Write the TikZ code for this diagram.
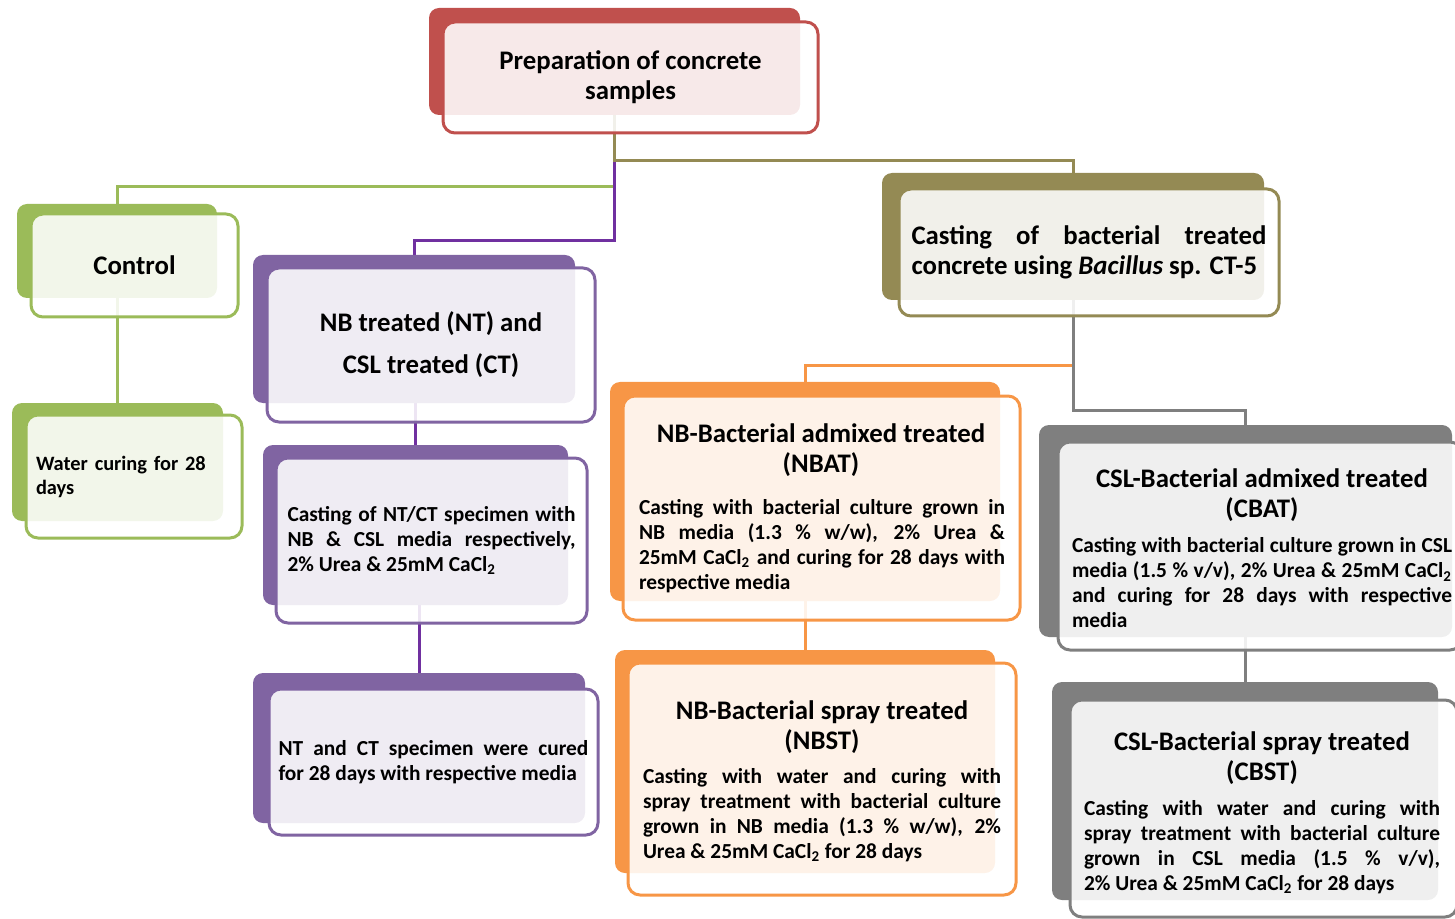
\documentclass[tikz,border=0pt]{standalone}
\usepackage{fontspec}
\setmainfont{Carlito}
\usepackage{tikz}
\usetikzlibrary{backgrounds}

\definecolor{prepred}{HTML}{C0504D}
\definecolor{ctrlgreen}{HTML}{9BBB59}
\definecolor{ntpurple}{HTML}{8064A2}
\definecolor{linkpurple}{HTML}{7030A0}
\definecolor{bactolive}{HTML}{948A54}
\definecolor{nborange}{HTML}{F79646}
\definecolor{cslgray}{HTML}{7F7F7F}

\hyphenpenalty=10000
\exhyphenpenalty=10000

\tikzset{
  backbox/.style={fill=#1, rounded corners=5pt, inner sep=0pt},
  frontbox/.style={draw=#1, line width=1.5pt, fill=white, fill opacity=0.88,
    text opacity=1, rounded corners=6pt, inner sep=0pt},
  titletext/.style={font={\bfseries\fontsize{13.4}{15}\selectfont}, align=center, inner sep=0pt},
  bodytext/.style={font={\bfseries\fontsize{10.7}{12.5}\selectfont}, align=justify, inner sep=0pt},
  link/.style={line width=1.5pt, draw=#1},
}

\begin{document}
\begin{tikzpicture}[x=0.5pt,y=-0.5pt]
\useasboundingbox (0,0) rectangle (1455,919);
\clip (0,0) rectangle (1455,919);

% top
\node[backbox=prepred, minimum width=185.5pt, minimum height=53.5pt] (prepB) at (614.5,61.5) {};
\node[frontbox=prepred, titletext, minimum width=187.5pt, minimum height=55.5pt] (prep) at (630.5,77.5)
  {Preparation of concrete\\samples};

% control branch
\node[backbox=ctrlgreen, minimum width=100pt, minimum height=47pt] (ctrlB) at (117,251) {};
\node[frontbox=ctrlgreen, titletext, minimum width=103.5pt, minimum height=51.5pt] (ctrl) at (134.5,265.5) {Control};
\node[backbox=ctrlgreen, minimum width=105.5pt, minimum height=59pt] (waterB) at (117.5,462) {};
\node[frontbox=ctrlgreen, bodytext, font={\bfseries\fontsize{10.2}{12}\selectfont}, align=left, text width=98pt, minimum width=108pt, minimum height=61.5pt] (water) at (134,476.5)
  {Water curing for 28\\days};

% NT / CT branch
\node[backbox=ntpurple, minimum width=161pt, minimum height=74pt] (ntB) at (414,329) {};
\node[frontbox=ntpurple, titletext, font={\bfseries\fontsize{13.4}{21}\selectfont}, minimum width=164pt, minimum height=77pt] (nt) at (431,345)
  {NB treated (NT) and\\CSL treated (CT)};
\node[backbox=ntpurple, minimum width=152.5pt, minimum height=80pt] (ntctB) at (415.5,525) {};
\node[frontbox=ntpurple, bodytext, text width=144pt, minimum width=155.5pt, minimum height=82.5pt] (ntct) at (431.5,540.5)
  {Casting of NT/CT specimen with\linebreak NB \& CSL media respectively,\linebreak 2\% Urea \& 25mM CaCl\textsubscript{2}};
\node[backbox=ntpurple, minimum width=166pt, minimum height=75pt] (curedB) at (419,748) {};
\node[frontbox=ntpurple, bodytext, text width=155pt, minimum width=164.5pt, minimum height=73pt] (cured) at (433.5,762)
  {NT and CT specimen were cured\linebreak for 28 days with respective media};

% bacterial branch
\node[backbox=bactolive, minimum width=191pt, minimum height=63.5pt] (bactB) at (1073,236.5) {};
\node[frontbox=bactolive, titletext, align=justify, text width=177.5pt, minimum width=190pt, minimum height=63.5pt] (bact) at (1089,252.5)
  {Casting of bacterial treated\linebreak concrete using \textit{Bacillus} sp. CT-5};

\node[backbox=nborange, minimum width=195pt, minimum height=109.5pt] (nbatB) at (805,491.5) {};
\node[frontbox=nborange, minimum width=198.5pt, minimum height=112pt] (nbat) at (821.5,508) {};
\node[titletext] (nbatT) at (821,450) {NB-Bacterial admixed treated\\(NBAT)};
\node[bodytext, text width=183pt] (nbatD) at (822,546)
  {Casting with bacterial culture grown in\linebreak NB media (1.3 \% w/w), 2\% Urea \&\linebreak 25mM CaCl\textsubscript{2} and curing for 28 days with\linebreak respective media};

\node[backbox=nborange, minimum width=190pt, minimum height=111.5pt] (nbstB) at (805,761.5) {};
\node[frontbox=nborange, minimum width=194pt, minimum height=116pt] (nbst) at (822,779) {};
\node[titletext] (nbstT) at (822,727) {NB-Bacterial spray treated\\(NBST)};
\node[bodytext, text width=179pt] (nbstD) at (822,815)
  {Casting with water and curing with\linebreak spray treatment with bacterial culture\linebreak grown in NB media (1.3 \% w/w), 2\%\linebreak Urea \& 25mM CaCl\textsubscript{2} for 28 days};

\node[backbox=cslgray, minimum width=206.5pt, minimum height=106pt] (cbatB) at (1245.5,531) {};
\node[frontbox=cslgray, minimum width=202pt, minimum height=104pt] (cbat) at (1260,546) {};
\node[titletext] (cbatT) at (1262,495) {CSL-Bacterial admixed treated\\(CBAT)};
\node[bodytext, text width=190pt] (cbatD) at (1262,583)
  {Casting with bacterial culture grown in CSL\linebreak media (1.5 \% v/v), 2\% Urea \& 25mM CaCl\textsubscript{2}\linebreak and curing for 28 days with respective\linebreak media};

\node[backbox=cslgray, minimum width=193pt, minimum height=109pt] (cbstB) at (1245,791) {};
\node[frontbox=cslgray, minimum width=193.5pt, minimum height=108.5pt] (cbst) at (1263.5,808.5) {};
\node[titletext] (cbstT) at (1262,758) {CSL-Bacterial spray treated\\(CBST)};
\node[bodytext, text width=178pt] (cbstD) at (1262,847)
  {Casting with water and curing with\linebreak spray treatment with bacterial culture\linebreak grown in CSL media (1.5 \% v/v),\linebreak 2\% Urea \& 25mM CaCl\textsubscript{2} for 28 days};

% connectors
\begin{scope}[on background layer]
  \draw[link=ctrlgreen] (prepB.south) -- ++(0,71) -| (ctrlB.north);
  \draw[link=linkpurple] (prepB.south) -- ++(0,125) -| (ntB.north);
  \draw[link=bactolive] (prepB.south) -- ++(0,45) -| (bactB.north);
  \draw[link=ctrlgreen] (waterB.north |- ctrlB.south) -- (waterB.north);
  \draw[link=linkpurple] (ntctB.north |- ntB.south) -- (ntctB.north);
  \draw[link=linkpurple] (curedB.north |- ntctB.south) -- (curedB.north);
  \draw[link=nborange] (bactB.south) -- ++(0,65) -| (nbatB.north);
  \draw[link=cslgray] (bactB.south) -- ++(0,110) -| (cbatB.north);
  \draw[link=nborange] (nbstB.north |- nbatB.south) -- (nbstB.north);
  \draw[link=cslgray] (cbstB.north |- cbatB.south) -- (cbstB.north);
\end{scope}
\end{tikzpicture}
\end{document}
